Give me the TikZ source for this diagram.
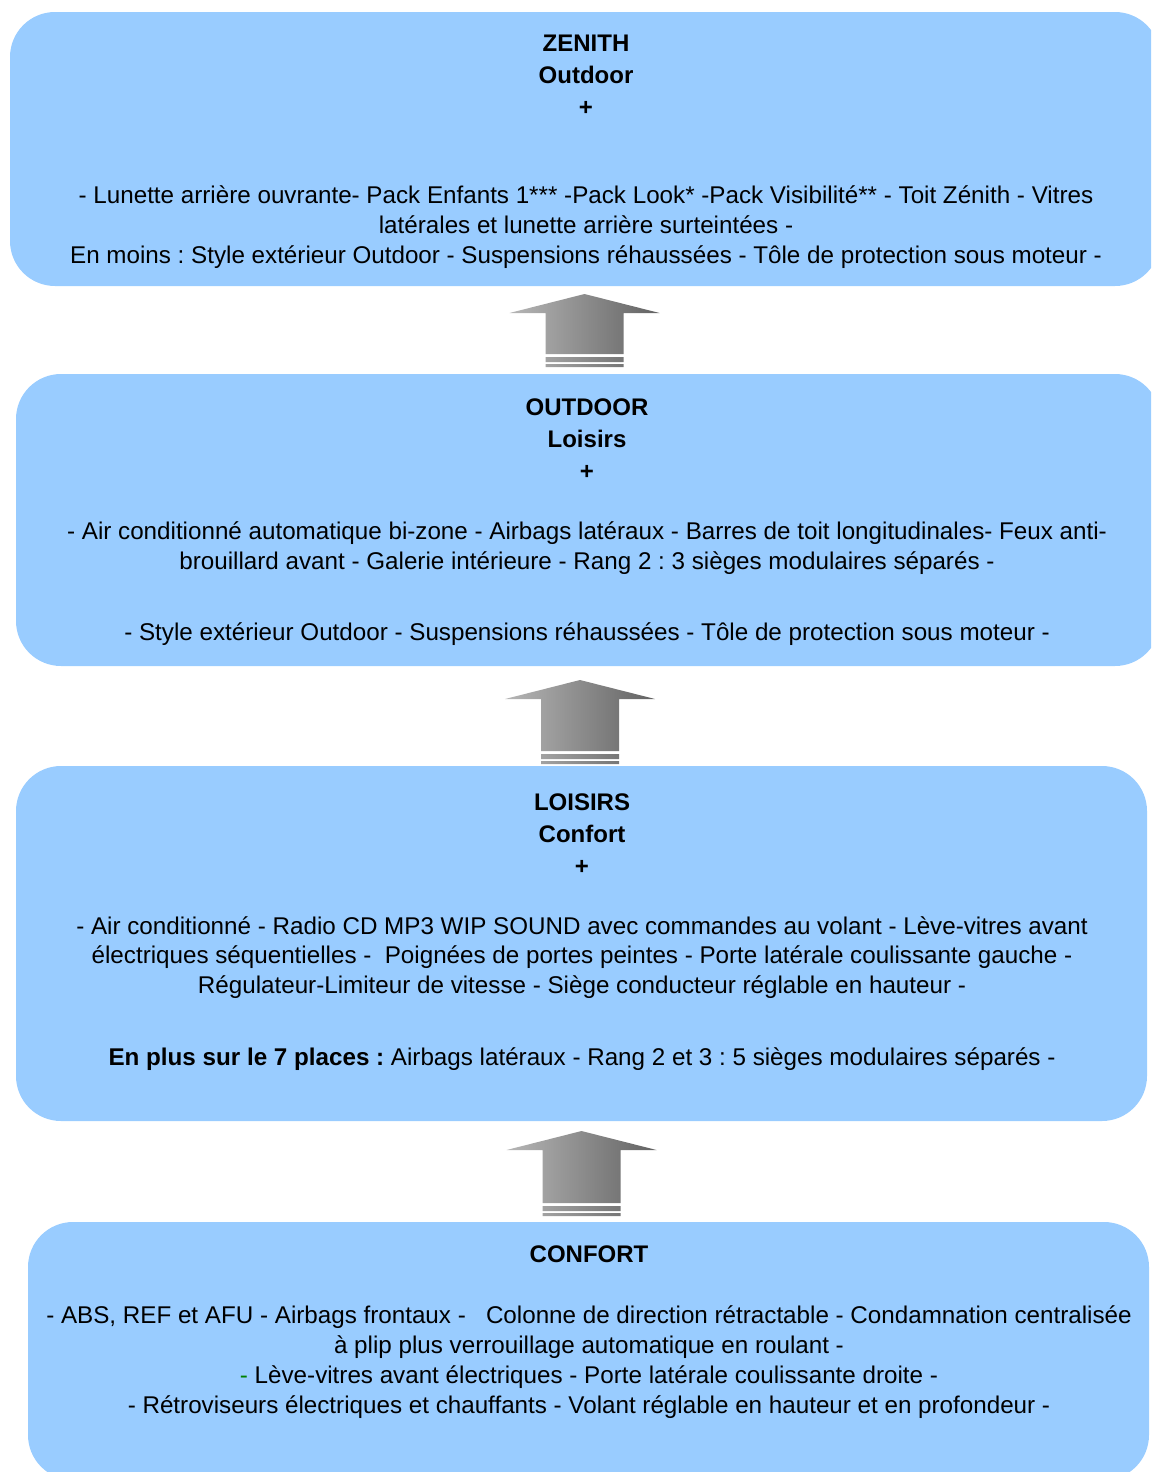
\documentclass[tikz,border=0pt]{standalone}
\usepackage{fontspec}
\setmainfont{Liberation Sans}
\usepackage{tikz}
\frenchspacing

\definecolor{tierblue}{RGB}{153,204,255}
\definecolor{dashgreen}{RGB}{0,128,0}
\definecolor{shadelight}{RGB}{182,182,182}
\definecolor{shadedark}{RGB}{98,98,98}

\tikzset{
  tier/.style={draw=none, fill=tierblue, rounded corners=22.5pt, inner sep=0pt},
  tiertitle/.style={align=center, inner sep=0pt, font=\fontsize{12}{16}\selectfont\bfseries},
  tiertext/.style={align=center, inner sep=0pt, font=\fontsize{12.1}{14.9}\selectfont}
}

% x, tip y, shaft bottom y
\newcommand{\stackarrow}[3]{%
  \shade[left color=shadelight, right color=shadedark]
    (#1-75,#2+19) -- (#1,#2) -- (#1+75,#2+19) -- (#1+39,#2+19) -- (#1+39,#3)
    -- (#1-39,#3) -- (#1-39,#2+19) -- cycle
    (#1-39,#3+3) rectangle (#1+39,#3+8)
    (#1-39,#3+10) rectangle (#1+39,#3+13);}

\begin{document}
\begin{tikzpicture}[x=0.5pt, y=-0.5pt]
	\clip (0,0) rectangle (1151,1472);
	\node[tier, minimum width=575pt, minimum height=137pt] (zenith) at (585,149) {};
	\node[tier, minimum width=572pt, minimum height=146pt] (outdoor) at (588,520) {};
	\node[tier, minimum width=565.5pt, minimum height=177.5pt] (loisirs) at (581.5,943.5) {};
	\node[tier, minimum width=560.5pt, minimum height=129pt] (confort) at (588.5,1351) {};

	\stackarrow{584.5}{294}{354}
	\stackarrow{580}{680}{751}
	\stackarrow{581.5}{1131}{1203}

	\node[tiertitle] (zenithtitle) at (586,75) {ZENITH\\Outdoor\\+};
	\node[tiertext] (zenithtext) at (586,227) {- Lunette arrière ouvrante- Pack Enfants 1*** -Pack Look* -Pack Visibilité** - Toit Zénith - Vitres\\
		latérales et lunette arrière surteintées -\\
		En moins : Style extérieur Outdoor - Suspensions réhaussées - Tôle de protection sous moteur -};

	\node[tiertitle] (outdoortitle) at (587,439) {OUTDOOR\\Loisirs\\+};
	\node[tiertext] (outdoortext) at (587,548) {- Air conditionné automatique bi-zone - Airbags latéraux - Barres de toit longitudinales- Feux anti-\\
		brouillard avant - Galerie intérieure - Rang 2 : 3 sièges modulaires séparés -};
	\node[tiertext] (outdoorless) at (587,634) {- Style extérieur Outdoor - Suspensions réhaussées - Tôle de protection sous moteur -};

	\node[tiertitle] (loisirstitle) at (582,834) {LOISIRS\\Confort\\+};
	\node[tiertext] (loisirstext) at (582,957.5) {- Air conditionné - Radio CD MP3 WIP SOUND avec commandes au volant - Lève-vitres avant\\
		électriques séquentielles -\ \ Poignées de portes peintes - Porte latérale coulissante gauche -\\
		Régulateur-Limiteur de vitesse - Siège conducteur réglable en hauteur -};
	\node[tiertext] (loisirsplus) at (582,1059) {\textbf{En plus sur le 7 places :} Airbags latéraux - Rang 2 et 3 : 5 sièges modulaires séparés -};

	\node[tiertitle] (conforttitle) at (589,1254) {CONFORT};
	\node[tiertext] (conforttext) at (589,1362) {- ABS, REF et AFU - Airbags frontaux -\ \ \ Colonne de direction rétractable - Condamnation centralisée\\
		à plip plus verrouillage automatique en roulant -\\
		{\color{dashgreen}-} Lève-vitres avant électriques - Porte latérale coulissante droite -\\
		- Rétroviseurs électriques et chauffants - Volant réglable en hauteur et en profondeur -};
\end{tikzpicture}
\end{document}
